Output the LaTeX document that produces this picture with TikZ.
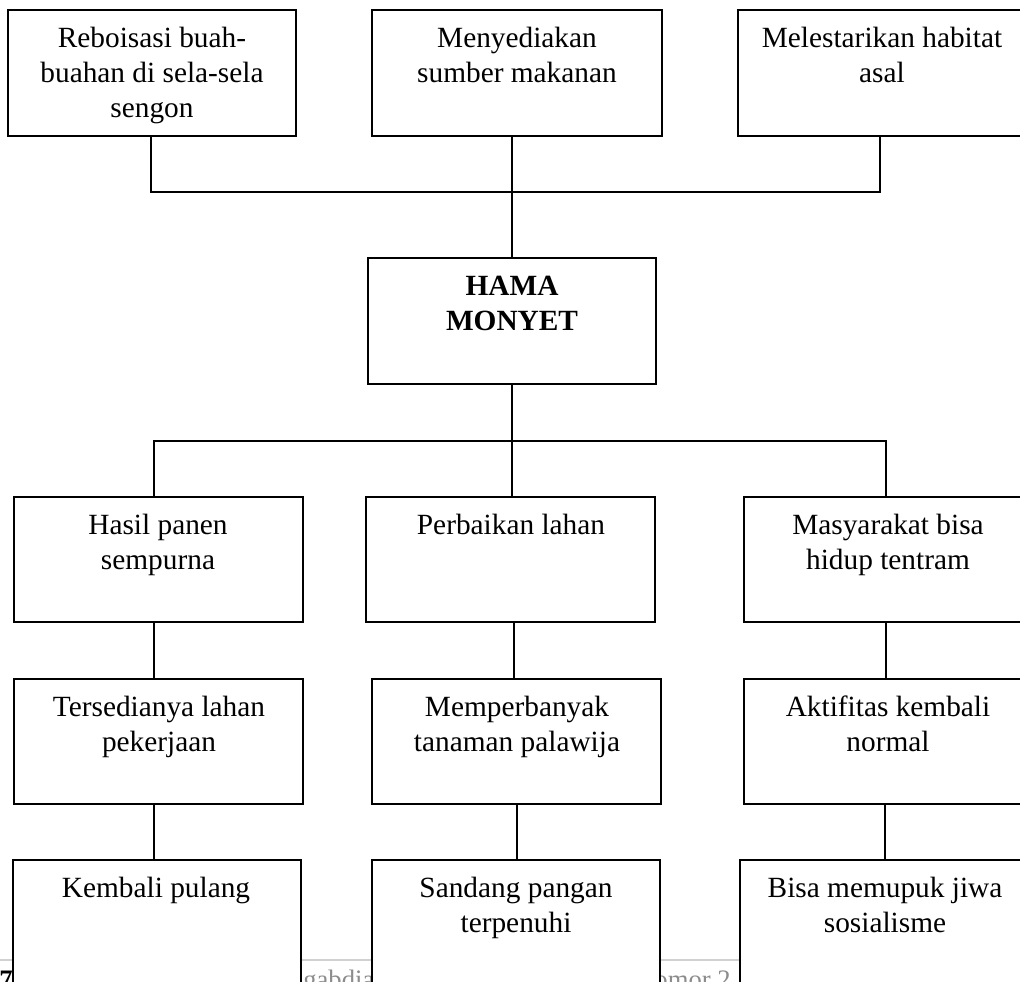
\documentclass[tikz,border=0pt]{standalone}
\usepackage{fontspec}
\setmainfont{Liberation Serif}
\newcommand\fst{\rule{0pt}{16.5pt}}
\newcommand\mkbox[5]{\node[box, minimum width={(#4-#2)*0.75pt}, minimum height={(#5-#3)*0.75pt}] (#1) at (#2,#3) {};}
\begin{document}
\begin{tikzpicture}[x=0.75pt,y=-0.75pt,
  box/.style={draw, line width=1.4pt, inner sep=0pt, outer sep=0pt, anchor=north west, fill=white},
  txt/.style={align=center, inner sep=0pt, anchor=north, font=\fontsize{22}{26.25}\selectfont},
  link/.style={line width=1.4pt},
  foot/.style={inner sep=0pt, anchor=base west, text=black!45, font=\fontsize{20}{24}\selectfont}]
\clip (0,0) rectangle (1020,981);
\fill[white] (0,0) rectangle (1020,981);
% footer (page artefacts, partly hidden behind the boxes)
\draw[line width=1.5pt, black!18] (0,960) -- (1020,960);
\node[foot, text=black, font=\fontsize{20}{24}\selectfont\bfseries] (pg) at (-1,988) {7};
\node[foot] (ft1) at (263,988) {Pengabdian};
\node[foot, anchor=base east] (ft2) at (731,988) {Nomor 2};
% row 1
\mkbox{b1}{8}{10}{296}{136}
\mkbox{b2}{372}{10}{662}{136}
\mkbox{b3}{738}{10}{1026}{136}
\node[txt] (t1) at (152,25) {\fst Reboisasi buah-\\buahan di sela-sela\\sengon};
\node[txt] (t2) at (517,25) {\fst Menyediakan\\sumber makanan};
\node[txt] (t3) at (882,25) {\fst Melestarikan habitat\\asal};
% centre
\mkbox{hama}{368}{258}{656}{384}
\node[txt, font=\fontsize{22}{26.25}\selectfont\bfseries] (th) at (512,273) {\fst HAMA\\MONYET};
% row 2
\mkbox{r2a}{14}{497}{303}{622}
\mkbox{r2b}{366}{497}{655}{622}
\mkbox{r2c}{744}{497}{1032}{622}
\node[txt] (t4) at (158,512) {\fst Hasil panen\\sempurna};
\node[txt] (t5) at (511,512) {\fst Perbaikan lahan};
\node[txt] (t6) at (888,512) {\fst Masyarakat bisa\\hidup tentram};
% row 3
\mkbox{r3a}{14}{679}{303}{804}
\mkbox{r3b}{372}{679}{661}{804}
\mkbox{r3c}{744}{679}{1032}{804}
\node[txt] (t7) at (159,694) {\fst Tersedianya lahan\\pekerjaan};
\node[txt] (t8) at (517,694) {\fst Memperbanyak\\tanaman palawija};
\node[txt] (t9) at (888,694) {\fst Aktifitas kembali\\normal};
% row 4
\mkbox{r4a}{13}{860}{301}{995}
\mkbox{r4b}{372}{860}{660}{995}
\mkbox{r4c}{740}{860}{1030}{995}
\node[txt] (t10) at (156,875) {\fst Kembali pulang};
\node[txt] (t11) at (516,875) {\fst Sandang pangan\\terpenuhi};
\node[txt] (t12) at (885,875) {\fst Bisa memupuk jiwa\\sosialisme};
% connectors
\coordinate (j1) at (151,192);
\coordinate (j3) at (880,192);
\draw[link] (b1.south -| j1) -- (j1) -- (j3) -- (b3.south -| j3);
\draw[link] (b2.south -| hama.north) -- (hama.north);
\coordinate (j4) at (154,441);
\coordinate (j6) at (886,441);
\draw[link] (r2a.north -| j4) -- (j4) -- (j6) -- (r2c.north -| j6);
\draw[link] (hama.south) -- (hama.south |- r2b.north);
\coordinate (xa) at (154,0);
\coordinate (xb1) at (514,0);
\coordinate (xb2) at (517,0);
\coordinate (xc1) at (886,0);
\coordinate (xc2) at (885,0);
\draw[link] (r2a.south -| xa) -- (r3a.north -| xa);
\draw[link] (r2b.south -| xb1) -- (r3b.north -| xb1);
\draw[link] (r2c.south -| xc1) -- (r3c.north -| xc1);
\draw[link] (r3a.south -| xa) -- (r4a.north -| xa);
\draw[link] (r3b.south -| xb2) -- (r4b.north -| xb2);
\draw[link] (r3c.south -| xc2) -- (r4c.north -| xc2);
\end{tikzpicture}
\end{document}
